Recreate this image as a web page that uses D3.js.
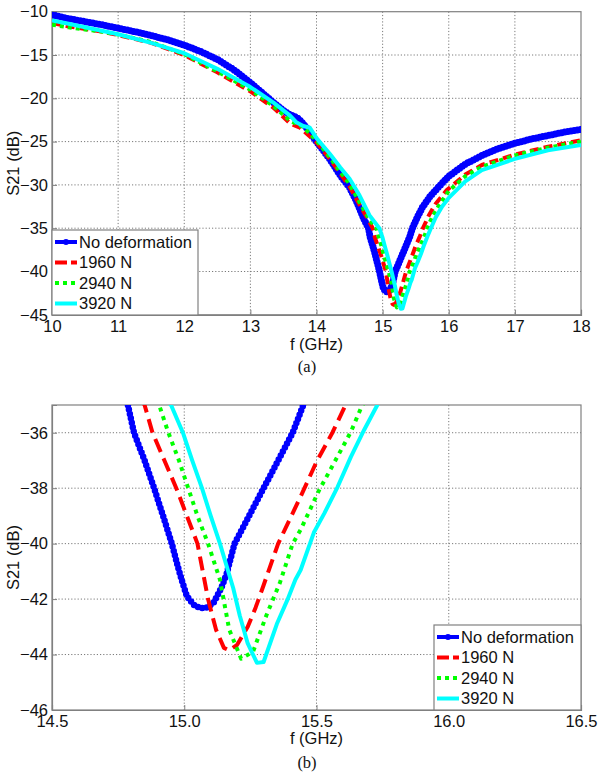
<!DOCTYPE html>
<html><head><meta charset="utf-8">
<script src="https://cdn.jsdelivr.net/npm/d3@7"></script>
<style>body{margin:0;background:#fff;} svg{display:block;}</style>
</head><body>
<svg id="c" width="602" height="775"></svg>
<script>
// ---- data: [f (GHz), S21 (dB)] ----
const noDeformation = [[10.0,-10.35],[10.25,-10.8],[10.5,-11.15],[10.75,-11.5],[11.0,-11.9],[11.25,-12.3],[11.5,-12.75],[11.75,-13.25],[12.0,-13.85],[12.25,-14.6],[12.5,-15.5],[12.75,-16.7],[13.0,-18.2],[13.2,-19.5],[13.35,-20.5],[13.5,-21.4],[13.6,-21.9],[13.7,-22.2],[13.76,-22.6],[13.85,-23.4],[14.0,-25.0],[14.2,-27.0],[14.36,-28.9],[14.5,-30.3],[14.6,-31.8],[14.66,-32.9],[14.72,-34.0],[14.787,-35.0],[14.81,-36.0],[14.85,-37.0],[14.886,-38.0],[14.92,-39.0],[14.953,-40.0],[14.975,-40.8],[14.99,-41.3],[15.01,-41.9],[15.035,-42.2],[15.06,-42.33],[15.085,-42.3],[15.11,-42.15],[15.14,-41.6],[15.16,-41.1],[15.19,-40.0],[15.245,-39.0],[15.30,-38.0],[15.355,-37.0],[15.41,-36.0],[15.45,-35.0],[15.52,-33.8],[15.6,-32.6],[15.72,-31.3],[15.85,-30.2],[16.0,-29.0],[16.25,-27.6],[16.5,-26.6],[16.75,-25.8],[17.0,-25.2],[17.25,-24.7],[17.5,-24.3],[17.75,-23.9],[18.0,-23.6]];
const n1960 = [[10.0,-11.3],[10.25,-11.7],[10.5,-12.0],[10.75,-12.3],[11.0,-12.7],[11.5,-13.6],[12.0,-15.0],[12.5,-17.0],[13.0,-19.2],[13.35,-21.1],[13.6,-22.9],[13.75,-23.4],[14.0,-25.1],[14.2,-27.0],[14.36,-28.7],[14.5,-30.2],[14.65,-32.3],[14.78,-34.0],[14.85,-35.0],[14.88,-36.0],[14.925,-37.0],[14.97,-38.0],[15.01,-39.0],[15.05,-40.0],[15.07,-41.0],[15.09,-42.0],[15.12,-43.1],[15.15,-43.76],[15.17,-43.85],[15.20,-43.65],[15.24,-43.0],[15.27,-42.3],[15.30,-41.5],[15.355,-40.0],[15.44,-38.3],[15.50,-37.05],[15.56,-36.0],[15.61,-35.0],[15.7,-33.5],[15.8,-32.2],[15.97,-30.6],[16.25,-28.8],[16.5,-27.7],[17.0,-26.5],[17.5,-25.6],[18.0,-24.85]];
const n2940 = [[10.0,-11.5],[10.25,-11.8],[10.5,-12.05],[10.75,-12.3],[11.0,-12.65],[11.5,-13.5],[12.0,-14.9],[12.5,-16.9],[13.0,-19.0],[13.35,-20.9],[13.6,-22.6],[13.8,-23.3],[14.0,-24.9],[14.2,-26.8],[14.36,-28.5],[14.5,-29.9],[14.65,-32.0],[14.8,-34.0],[14.905,-35.0],[14.94,-36.0],[14.98,-37.0],[15.015,-38.0],[15.05,-39.0],[15.09,-40.0],[15.135,-41.3],[15.17,-43.1],[15.215,-44.15],[15.26,-43.9],[15.31,-42.6],[15.362,-41.4],[15.41,-40.0],[15.44,-39.5],[15.51,-38.07],[15.56,-37.2],[15.63,-35.97],[15.67,-35.07],[15.75,-33.7],[15.85,-32.4],[16.0,-30.7],[16.25,-29.0],[16.5,-27.9],[17.0,-26.6],[17.5,-25.7],[18.0,-25.0]];
const n3920 = [[10.0,-11.0],[10.25,-11.4],[10.5,-11.8],[10.75,-12.2],[11.0,-12.6],[11.5,-13.6],[12.0,-14.8],[12.5,-16.6],[13.0,-18.7],[13.35,-20.5],[13.6,-22.0],[13.7,-22.8],[13.8,-23.2],[13.9,-23.4],[14.0,-24.6],[14.2,-26.4],[14.36,-28.0],[14.5,-29.3],[14.65,-31.2],[14.8,-33.5],[14.95,-35.0],[14.995,-36.0],[15.03,-37.0],[15.067,-38.0],[15.10,-39.0],[15.135,-40.0],[15.185,-41.6],[15.21,-42.6],[15.24,-43.6],[15.275,-44.3],[15.30,-44.27],[15.35,-42.9],[15.39,-42.03],[15.42,-41.3],[15.44,-40.95],[15.49,-39.6],[15.53,-38.9],[15.58,-37.95],[15.63,-36.87],[15.68,-35.9],[15.73,-35.0],[15.8,-33.8],[15.9,-32.5],[16.0,-31.5],[16.25,-29.6],[16.5,-28.3],[17.0,-27.0],[17.5,-26.0],[18.0,-25.4]];

const seriesNames = ["No deformation","1960 N","2940 N","3920 N"];
const seriesColors = ["#0000ff","#ff0000","#00ff00","#00ffff"];
const seriesData = [noDeformation, n1960, n2940, n3920];

const topXTicks = [10,11,12,13,14,15,16,17,18];
const topYTicks = [-10,-15,-20,-25,-30,-35,-40,-45];
const botXTicks = [14.5,15.0,15.5,16.0,16.5];
const botYTicks = [-36,-38,-40,-42,-44,-46];

const svg = d3.select("#c");
const FONT = "'Liberation Sans', Arial, sans-serif";

function panel(cfg){
  const {id, x0, x1, y0, y1, xDom, yDom, xTicks, yTicks, xFmt, legend, caption, dash, dotDash} = cfg;
  const x = d3.scaleLinear().domain(xDom).range([x0, x1]);
  const y = d3.scaleLinear().domain(yDom).range([y1, y0]);
  const g = svg.append("g");
  g.append("clipPath").attr("id", id).append("rect")
    .attr("x", x0).attr("y", y0).attr("width", x1-x0).attr("height", y1-y0);
  // grid
  const grid = g.append("g").attr("stroke","#7a7a7a").attr("stroke-width",1).attr("stroke-dasharray","1.2,2");
  xTicks.slice(1,-1).forEach(t=>grid.append("line").attr("x1",x(t)).attr("x2",x(t)).attr("y1",y0).attr("y2",y1));
  yTicks.forEach(t=>{ if(y(t)>y0+1 && y(t)<y1-1) grid.append("line").attr("x1",x0).attr("x2",x1).attr("y1",y(t)).attr("y2",y(t)); });
  // axes (inward ticks)
  const ax = g.append("g");
  const bx = ax.append("g").attr("transform",`translate(0,${y1})`).call(d3.axisBottom(x).tickValues(xTicks).tickSize(-5).tickFormat(xFmt).tickPadding(8));
  const ly = ax.append("g").attr("transform",`translate(${x0},0)`).call(d3.axisLeft(y).tickValues(yTicks).tickSize(-5).tickPadding(4));
  [bx, ly].forEach(a=>{
    a.selectAll("path").attr("stroke","#808080").attr("stroke-width",1.2);
    a.selectAll("line").attr("stroke","#808080");
    a.selectAll("text").attr("font-family",FONT).attr("font-size","16.5px").attr("fill","#111");
  });
  bx.selectAll("text").attr("dy","0.55em");
  g.append("rect").attr("x",x0).attr("y",y0).attr("width",x1-x0).attr("height",y1-y0)
    .attr("fill","none").attr("stroke","#808080").attr("stroke-width",1.2);
  // lines
  const line = d3.line().x(d=>x(d[0])).y(d=>y(d[1]));
  const lg = g.append("g").attr("clip-path",`url(#${id})`).attr("fill","none");
  seriesData.forEach((data,i)=>{
    const p = lg.append("path").datum(data).attr("d",line).attr("stroke",seriesColors[i])
      .attr("stroke-linejoin","round");
    if(i===0){
      p.attr("stroke-width",cfg.blueW);
      lg.append("path").datum(data).attr("d",line).attr("stroke",seriesColors[0])
        .attr("stroke-width",cfg.blueDot).attr("stroke-linecap","round").attr("stroke-dasharray",cfg.blueGap);
    } else if(i===1){ p.attr("stroke-width",4).attr("stroke-dasharray",dash); }
    else if(i===2){ p.attr("stroke-width",4).attr("stroke-dasharray",dotDash); }
    else { p.attr("stroke-width",4); }
  });
  // legend
  const L = g.append("g");
  L.append("rect").attr("x",legend.x).attr("y",legend.y).attr("width",legend.w).attr("height",legend.h)
    .attr("fill","#fff").attr("stroke","#808080").attr("stroke-width",1.2);
  seriesNames.forEach((nm,i)=>{
    const yy = legend.y + 12 + i*20.5;
    const sx0 = legend.x+3, sx1 = legend.x+25;
    const s = L.append("line").attr("x1",sx0).attr("x2",sx1).attr("y1",yy).attr("y2",yy).attr("stroke",seriesColors[i]).attr("stroke-width",4);
    if(i===0){ L.append("circle").attr("cx",(sx0+sx1)/2).attr("cy",yy).attr("r",3).attr("fill",seriesColors[0]); }
    if(i===1) s.attr("stroke-dasharray","12,4");
    if(i===2) s.attr("stroke-dasharray","4,4");
    L.append("text").attr("x",legend.x+27).attr("y",yy).attr("dy","0.36em").attr("font-family",FONT)
      .attr("font-size","16.5px").attr("fill","#111").text(nm);
  });
  // labels
  g.append("text").attr("x",(x0+x1)/2).attr("y",cfg.xLabelY).attr("text-anchor","middle").attr("dy","0.36em")
    .attr("font-family",FONT).attr("font-size","16.5px").attr("fill","#111").text("f (GHz)");
  g.append("text").attr("transform",`translate(13,${(y0+y1)/2}) rotate(-90)`).attr("text-anchor","middle").attr("dy","0.36em")
    .attr("font-family",FONT).attr("font-size","16.5px").attr("fill","#111").text("S21 (dB)");
  g.append("text").attr("x",307).attr("y",cfg.capY).attr("text-anchor","middle").attr("dy","0.36em")
    .attr("font-family","'Liberation Serif', 'Times New Roman', serif").attr("font-size","16.5px").attr("fill","#111").text(caption);
}

panel({id:"clipA", x0:52, x1:581, y0:11.7, y1:314.8, xDom:[10,18], yDom:[-45,-10],
  xTicks:topXTicks, yTicks:topYTicks, xFmt:d3.format("d"),
  legend:{x:52,y:230,w:146,h:85}, caption:"(a)", xLabelY:344, capY:366,
  dash:"9,5", dotDash:"4,4", blueW:4.5, blueDot:7, blueGap:"0,3.2"});
panel({id:"clipB", x0:52, x1:581, y0:405, y1:710, xDom:[14.5,16.5], yDom:[-46,-35],
  xTicks:botXTicks, yTicks:botYTicks, xFmt:d3.format(".1f"),
  legend:{x:434,y:625,w:147,h:85}, caption:"(b)", xLabelY:738, capY:762,
  dash:"14,7", dotDash:"4,5", blueW:2.5, blueDot:6.5, blueGap:"0,4.5"});
</script>
</body></html>
